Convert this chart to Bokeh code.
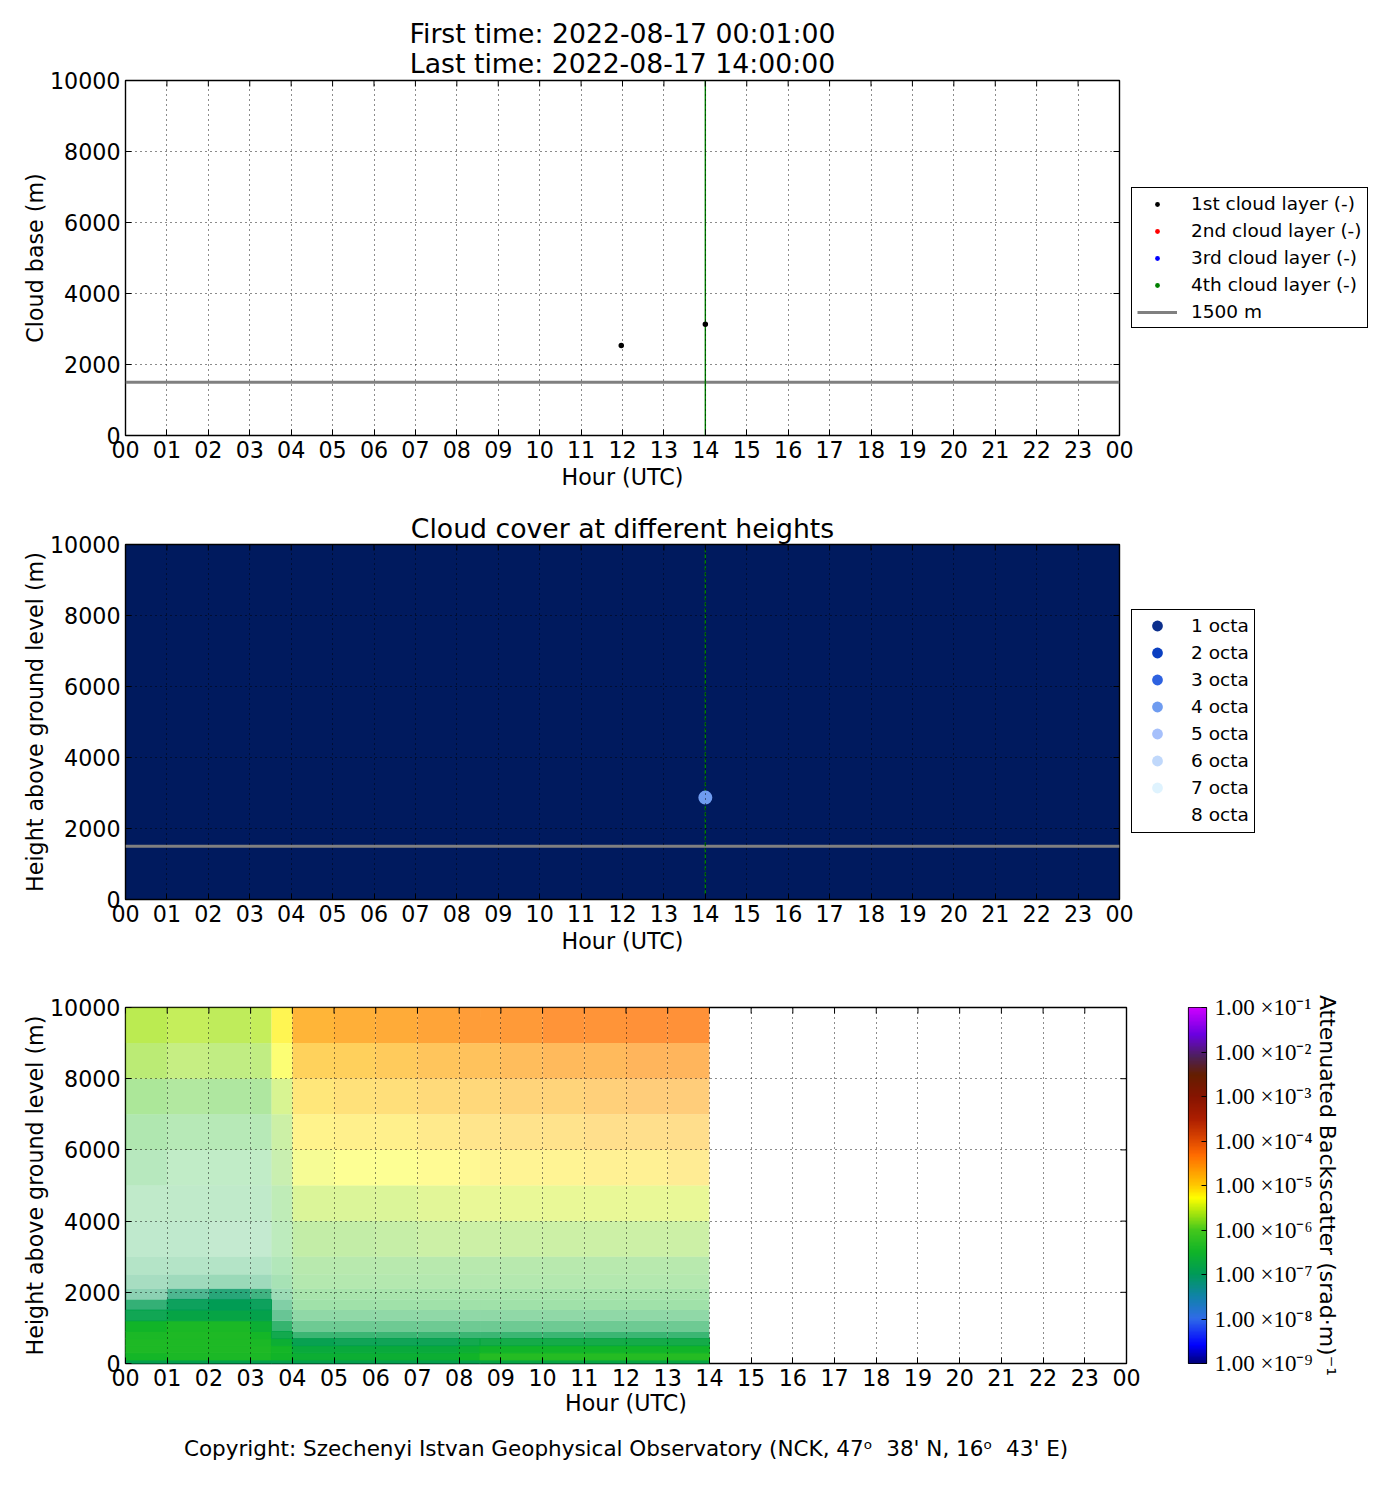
from bokeh.plotting import figure
from bokeh.layouts import column, row
from bokeh.models import (Range1d, FixedTicker, Legend, LegendItem, Title,
                          LinearColorMapper, ColumnDataSource)
from bokeh.embed import file_html
from bokeh.resources import INLINE
import numpy as np

title_first = "First time: 2022-08-17 00:01:00"
title_last = "Last time: 2022-08-17 14:00:00"
title_cover = "Cloud cover at different heights"
copyright_text = "Copyright: Szechenyi Istvan Geophysical Observatory (NCK, 47\u1d52\u00a0\u00a038' N, 16\u1d52\u00a0\u00a043' E)"
hour_labels = ["00","01","02","03","04","05","06","07","08","09","10","11","12","13","14","15",
               "16","17","18","19","20","21","22","23","00"]
height_ticks = [0, 2000, 4000, 6000, 8000, 10000]

# panel 1
layer1_hour = [11.97, 14.0]
layer1_height = [2535, 3135]
layer4_hour = [14.0, 14.0]
layer4_height = [0, 10000]
no_value = [float("nan")]
ref_height = 1500
layer_names = ["1st cloud layer (-)", "2nd cloud layer (-)", "3rd cloud layer (-)", "4th cloud layer (-)"]
layer_colors = ["#000000", "#ff0000", "#0000ff", "#008000"]
ref_name = "1500 m"

# panel 2
octa_names = ["1 octa","2 octa","3 octa","4 octa","5 octa","6 octa","7 octa","8 octa"]
octa_colors = ["#0c2f8c","#0a3fc1","#2e62e0","#6f9cf0","#a6c0fb","#c0d8fb","#dff3fe","#ffffff"]
cover_hour = [14.0]
cover_height = [2870]
cover_color = ["#6f9cf0"]
sky_color = "#001a5e"

# panel 3: hour edges and height edges of the read-off blocks
hour_edges = [0,1,2,3,3.5,4,5,6,7,8,8.5,9,10,11,12,13,14]
height_edges = [0,100,300,500,700,900,1200,1500,1800,2100,2500,3000,4000,5000,6000,7000,8000,9000,10000]

# log10 attenuated backscatter, one list per height band (bottom to top)
beta_00 = [-6.9,-6.9,-6.9,-6.9,-6.9,-6.9,-6.9,-6.9,-6.9,-6.9,-6.8,-6.8,-6.8,-6.8,-6.8,-6.8]
beta_01 = [-6.45,-6.4,-6.4,-6.4,-6.5,-6.6,-6.6,-6.6,-6.6,-6.5,-6.3,-6.3,-6.3,-6.3,-6.3,-6.3]
beta_02 = [-6.35,-6.35,-6.35,-6.35,-6.45,-6.7,-6.7,-6.7,-6.7,-6.6,-6.5,-6.5,-6.5,-6.5,-6.5,-6.5]
beta_03 = [-6.35,-6.35,-6.35,-6.4,-6.6,-6.9,-6.9,-6.9,-6.9,-6.8,-6.75,-6.75,-6.75,-6.75,-6.75,-6.75]
beta_04 = [-6.4,-6.35,-6.35,-6.45,-6.8,-6.85,-6.85,-6.85,-6.85,-6.85,-6.85,-6.85,-6.85,-6.85,-6.85,-6.85]
beta_05 = [-6.5,-6.4,-6.4,-6.6,-6.85,-6.8,-6.8,-6.8,-6.8,-6.8,-6.8,-6.8,-6.8,-6.8,-6.8,-6.8]
beta_06 = [-6.85,-6.8,-6.8,-6.85,-6.9,-6.7,-6.7,-6.7,-6.7,-6.7,-6.7,-6.7,-6.7,-6.7,-6.7,-6.7]
beta_07 = [-6.95,-6.95,-6.95,-6.95,-6.9,-6.5,-6.5,-6.5,-6.5,-6.5,-6.5,-6.5,-6.5,-6.5,-6.5,-6.5]
beta_08 = [-7.0,-7.05,-7.05,-7.0,-6.8,-6.4,-6.4,-6.4,-6.4,-6.4,-6.4,-6.4,-6.4,-6.4,-6.4,-6.4]
beta_09 = [-6.9,-6.9,-6.9,-6.9,-6.6,-6.2,-6.2,-6.2,-6.2,-6.2,-6.2,-6.2,-6.2,-6.2,-6.2,-6.2]
beta_10 = [-6.8,-6.8,-6.8,-6.8,-6.5,-6.1,-6.1,-6.1,-6.1,-6.1,-6.1,-6.1,-6.1,-6.1,-6.1,-6.1]
beta_11 = [-6.7,-6.7,-6.7,-6.7,-6.3,-5.9,-5.9,-5.85,-5.8,-5.8,-5.8,-5.8,-5.8,-5.8,-5.8,-5.8]
beta_12 = [-6.6,-6.6,-6.6,-6.6,-6.1,-5.6,-5.6,-5.6,-5.55,-5.5,-5.5,-5.5,-5.5,-5.5,-5.5,-5.5]
beta_13 = [-6.5,-6.5,-6.5,-6.5,-5.9,-5.35,-5.3,-5.3,-5.25,-5.2,-5.15,-5.15,-5.15,-5.1,-5.1,-5.05]
beta_14 = [-6.3,-6.3,-6.3,-6.3,-5.8,-5.15,-5.1,-5.1,-5.05,-5.0,-5.0,-4.95,-4.95,-4.9,-4.9,-4.85]
beta_15 = [-6.0,-6.0,-6.05,-6.05,-5.6,-5.05,-5.0,-4.95,-4.9,-4.85,-4.85,-4.8,-4.8,-4.75,-4.7,-4.7]
beta_16 = [-5.75,-5.7,-5.75,-5.75,-5.3,-4.9,-4.85,-4.8,-4.75,-4.7,-4.7,-4.65,-4.6,-4.6,-4.55,-4.55]
beta_17 = [-5.65,-5.6,-5.65,-5.6,-5.2,-4.7,-4.65,-4.6,-4.55,-4.5,-4.5,-4.45,-4.4,-4.4,-4.35,-4.35]

# share of pixels that carry a value in each block (the rest is white)
fill_00 = [1.0]*16
fill_01 = [1.0]*16
fill_02 = [1.0]*16
fill_03 = [1.0,1.0,1.0,1.0,1.0,.98,.95,.95,.95,.95,.95,.95,.95,.95,.95,.95]
fill_04 = [1.0,1.0,1.0,1.0,.95,.78,.78,.78,.78,.78,.78,.78,.78,.78,.78,.78]
fill_05 = [1.0,1.0,1.0,1.0,.8,.58,.58,.58,.58,.58,.58,.58,.58,.58,.58,.58]
fill_06 = [.95,1.0,1.0,1.0,.6,.45,.45,.45,.45,.45,.45,.45,.45,.45,.45,.45]
fill_07 = [.8,.95,1.0,.95,.5,.4,.4,.4,.4,.4,.4,.4,.4,.4,.4,.4]
fill_08 = [.45,.7,.85,.75,.4,.38,.38,.38,.38,.38,.38,.38,.38,.38,.38,.38]
fill_09 = [.35,.38,.4,.38,.36,.36,.36,.36,.36,.36,.36,.36,.36,.36,.36,.36]
fill_10 = [.3,.3,.3,.3,.32,.36,.36,.36,.36,.36,.36,.36,.36,.36,.36,.36]
fill_11 = [.26,.26,.24,.24,.3,.38,.38,.38,.38,.38,.38,.38,.38,.38,.38,.38]
fill_12 = [.26,.26,.26,.26,.32,.42,.42,.42,.42,.42,.42,.42,.42,.42,.42,.42]
fill_13 = [.3,.26,.26,.26,.34,.42,.42,.42,.42,.42,.42,.42,.42,.42,.42,.42]
fill_14 = [.36,.33,.33,.33,.38,.45,.45,.45,.45,.45,.45,.45,.45,.45,.45,.45]
fill_15 = [.45,.42,.42,.42,.45,.52,.52,.52,.52,.52,.52,.52,.52,.52,.52,.52]
fill_16 = [.58,.52,.52,.52,.55,.64,.64,.64,.64,.64,.64,.64,.64,.64,.64,.64]
fill_17 = [.72,.68,.68,.68,.68,.78,.78,.78,.78,.78,.78,.78,.78,.78,.78,.78]

beta_rows = [beta_00,beta_01,beta_02,beta_03,beta_04,beta_05,beta_06,beta_07,beta_08,
             beta_09,beta_10,beta_11,beta_12,beta_13,beta_14,beta_15,beta_16,beta_17]
fill_rows = [fill_00,fill_01,fill_02,fill_03,fill_04,fill_05,fill_06,fill_07,fill_08,
             fill_09,fill_10,fill_11,fill_12,fill_13,fill_14,fill_15,fill_16,fill_17]

# colour scale
cbar_levels = [-9,-8.6,-8,-7.5,-7,-6.5,-6,-5.28,-5,-4.3,-4,-3.5,-3,-2.5,-2.1,-1.6,-1]
cbar_colors = ["#00007a","#0000ff","#2f6be8","#1083a8","#009a58","#10b428","#45c81c","#ffff00",
               "#ffc800","#ff6a00","#e04a00","#ac1e00","#861400","#641e00","#4c2058","#6a00e0","#cc00ff"]
cbar_ticks = [-9,-8,-7,-6,-5,-4,-3,-2,-1]
cbar_labels = ["1.00 \u00d710\u207b\u2079","1.00 \u00d710\u207b\u2078","1.00 \u00d710\u207b\u2077",
               "1.00 \u00d710\u207b\u2076","1.00 \u00d710\u207b\u2075","1.00 \u00d710\u207b\u2074",
               "1.00 \u00d710\u207b\u00b3","1.00 \u00d710\u207b\u00b2","1.00 \u00d710\u207b\u00b9"]
cbar_label = "Attenuated Backscatter (srad\u00b7m)\u207b\u00b9"

FONT = "DejaVu Sans"
TICK = "22.2px"


def hexrgb(c):
    return [int(c[i:i+2], 16) for i in (1, 3, 5)]


lv = np.linspace(cbar_levels[0], cbar_levels[-1], 256)
rgb = np.array([hexrgb(c) for c in cbar_colors], dtype=float)
palette = ["#%02x%02x%02x" % tuple(int(round(np.interp(v, cbar_levels, rgb[:, k]))) for k in range(3)) for v in lv]
mapper = LinearColorMapper(palette=palette, low=-9, high=-1)


def style_axis(ax, ticks, overrides=None):
    ax.ticker = FixedTicker(ticks=ticks)
    ax.axis_line_color = None
    ax.major_tick_in = 6
    ax.major_tick_out = 0
    ax.minor_tick_in = 0
    ax.minor_tick_out = 0
    ax.major_tick_line_color = "black"
    ax.major_tick_line_width = 1
    ax.major_label_text_font = FONT
    ax.major_label_text_font_size = TICK
    ax.major_label_text_color = "black"
    ax.axis_label_text_font = FONT
    ax.axis_label_text_font_size = TICK
    ax.axis_label_text_font_style = "normal"
    ax.axis_label_text_color = "black"
    ax.major_label_standoff = 5
    ax.axis_label_standoff = 3
    if overrides:
        ax.major_label_overrides = overrides


def make_panel(width, height, top, fh, right, ylabel):
    p = figure(width=width, height=height, x_range=Range1d(0, 24), y_range=Range1d(0, 10000),
               output_backend="svg", toolbar_location=None, tools="",
               min_border_left=125, min_border_right=right, min_border_top=top,
               min_border_bottom=height - top - fh, background_fill_color="white")
    p.xaxis.axis_label = "Hour (UTC)"
    p.yaxis.axis_label = ylabel
    hours = list(range(25))
    style_axis(p.xaxis[0], hours, {i: s for i, s in enumerate(hour_labels)})
    style_axis(p.yaxis[0], height_ticks)
    p.yaxis[0].major_label_standoff = 5
    p.yaxis[0].axis_label_standoff = -1
    p.outline_line_color = "black"
    p.outline_line_width = 1.4
    p.outline_line_alpha = 1
    for g in (p.xgrid[0], p.ygrid[0]):
        g.grid_line_color = "black"
        g.grid_line_dash = "1 4"
        g.grid_line_width = 1.1
        g.grid_line_alpha = 0.9
        g.level = "overlay"
    p.xgrid[0].ticker = FixedTicker(ticks=hours)
    p.ygrid[0].ticker = FixedTicker(ticks=height_ticks)
    # ticks on the top and right edges of the box, as on the bottom and left
    p.segment(hours, [10000] * 25, hours, [10000 - 6 * 10000 / fh] * 25, line_color="black", level="overlay")
    rw = 24 * 6 / (width - 125 - right)
    p.segment([24] * 6, height_ticks, [24 - rw] * 6, height_ticks, line_color="black", level="overlay")
    return p


def title(text, size="26.7px", offset=0):
    return Title(text=text, align="center", text_font=FONT, text_font_size=size,
                 text_font_style="normal", text_color="black", standoff=offset)


def legend_figure(height, top, fh):
    f = figure(width=259, height=height, x_range=Range1d(0, 259), y_range=Range1d(0, fh),
               output_backend="svg", toolbar_location=None, tools="",
               x_axis_location=None, y_axis_location=None,
               min_border_left=0, min_border_right=0, min_border_top=top,
               min_border_bottom=height - top - fh)
    f.grid.visible = False
    f.outline_line_color = None
    f.background_fill_alpha = 0
    f.border_fill_alpha = 0
    f.margin = (0, 0, 0, -15)
    return f


def legend_for(items, x, y, padding, spacing, standoff, gw, gh, lw):
    return Legend(items=items, location=(x, y), margin=0, padding=padding, spacing=spacing,
                  label_standoff=standoff, glyph_width=gw, glyph_height=gh, label_height=20, label_width=lw,
                  label_text_font=FONT, label_text_font_size="18.5px", label_text_color="black",
                  border_line_color="black", border_line_width=1.2, border_line_alpha=1,
                  background_fill_alpha=1, background_fill_color="white")


# ---- panel 1
p1 = make_panel(1140, 500, 80, 355, 21, "Cloud base (m)")
p1.add_layout(title(title_last, offset=3), "above")
p1.add_layout(title(title_first, offset=-9), "above")
p1.line([0, 24], [ref_height, ref_height], line_color="#808080", line_width=3)
p1.line(layer4_hour, layer4_height, line_color="#008000", line_width=1.4)
p1.scatter(layer1_hour, layer1_height, size=5.5, fill_color=layer_colors[0], line_color=None)

l1 = legend_figure(500, 80, 355)
items1 = []
for name, col in zip(layer_names, layer_colors):
    r = l1.scatter(no_value, no_value, fill_color=col, line_color=None)
    items1.append(LegendItem(label=name, renderers=[r]))
r = l1.line(no_value, no_value, line_color="#808080", line_width=3)
items1.append(LegendItem(label=ref_name, renderers=[r]))
l1.add_layout(legend_for(items1, 6, 107, 5, 6, 14, 40, 12, 20), "center")

# ---- panel 2
p2 = make_panel(1140, 459, 44, 355, 21, "Height above ground level (m)")
p2.add_layout(title(title_cover, offset=2), "above")
p2.background_fill_color = sky_color
p2.line([0, 24], [ref_height, ref_height], line_color="#808080", line_width=3)
p2.line([14.0, 14.0], [150, 9900], line_color="#008000", line_width=1.4, line_dash="4 2")
p2.scatter(cover_hour, cover_height, size=14, fill_color=cover_color, line_color=None)

l2 = legend_figure(459, 44, 355)
items2 = []
for name, col in zip(octa_names, octa_colors):
    r = l2.scatter(no_value, no_value, fill_color=col, line_color=None)
    items2.append(LegendItem(label=name, renderers=[r]))
l2.add_layout(legend_for(items2, 6, 66, dict(left=0, right=5, top=2, bottom=4), 0, 9, 50, 27, 58), "center")
# legend keys at full marker size (the legend itself caps them to its row height)
key_rows = [272.5 - 27 * i for i in range(len(octa_colors))]
l2.scatter([31] * len(octa_colors), key_rows, size=14, fill_color=octa_colors, line_color=None, level="overlay")

# ---- panel 3
p3 = make_panel(1150, 522, 48, 356, 24, "Height above ground level (m)")
p3.xaxis[0].axis_label_standoff = 1
L, R, B, T, V, A, LA = [], [], [], [], [], [], []
for j, (br, fr) in enumerate(zip(beta_rows, fill_rows)):
    for i in range(len(hour_edges) - 1):
        L.append(hour_edges[i]); R.append(hour_edges[i + 1])
        B.append(height_edges[j]); T.append(height_edges[j + 1])
        V.append(br[i]); A.append(fr[i]); LA.append(1.0 if fr[i] >= 0.95 else 0.0)
src = ColumnDataSource(dict(left=L, right=R, bottom=B, top=T, v=V, a=A, la=LA))
p3.quad(left="left", right="right", bottom="bottom", top="top", source=src,
        fill_color={"field": "v", "transform": mapper}, fill_alpha="a",
        line_color={"field": "v", "transform": mapper}, line_alpha="la", line_width=1)
p3.add_layout(title(copyright_text, "21.5px", 31), "below")

# ---- colour bar
cb = figure(width=230, height=522, x_range=Range1d(0, 1), y_range=Range1d(-9, -1),
            output_backend="svg", toolbar_location=None, tools="", y_axis_location="right",
            min_border_left=38, min_border_right=174, min_border_top=48, min_border_bottom=118)
cb.image(image=[lv.reshape(-1, 1)], x=0, y=-9, dw=1, dh=8, color_mapper=mapper)
cb.xaxis.visible = False
cb.grid.visible = False
cb.outline_line_color = "black"
cb.outline_line_width = 1.2
ax = cb.yaxis[0]
style_axis(ax, cbar_ticks, {t: s for t, s in zip(cbar_ticks, cbar_labels)})
ax.major_tick_in = 5
ax.major_label_text_font = "Liberation Serif"
ax.major_label_text_font_size = "23px"
ax.major_label_standoff = 8
ax.axis_label = cbar_label
ax.axis_label_text_font_size = "22px"
ax.axis_label_standoff = 0

page = column(row(p1, l1), row(p2, l2), row(p3, cb))
open("out.html", "w").write(file_html(page, INLINE))
